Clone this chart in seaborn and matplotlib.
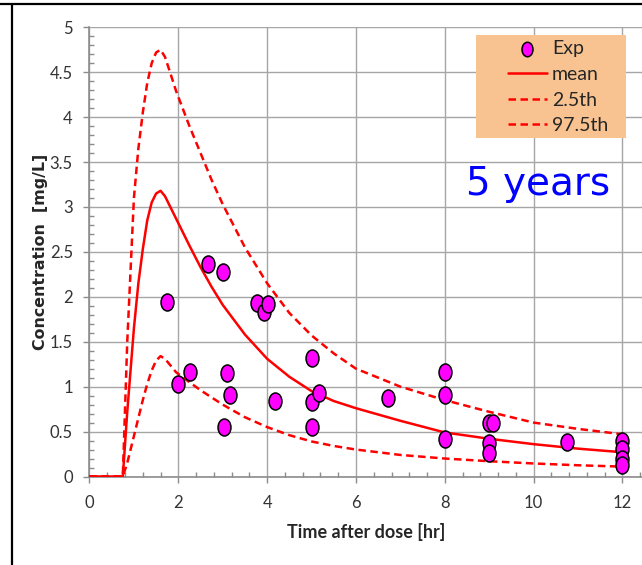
import numpy as np
import pandas as pd
import matplotlib
matplotlib.use("Agg")
import matplotlib.pyplot as plt
import seaborn as sns
from matplotlib.path import Path
from matplotlib.transforms import Affine2D
from matplotlib.lines import Line2D
from matplotlib.patches import Rectangle

# ---------------- data ----------------
exp_time = [1.75, 2.0, 2.26, 2.67, 3.01, 3.09, 3.16, 3.03, 3.77, 3.93, 4.03, 4.18,
            5.0, 5.0, 5.17, 5.0, 6.73, 8.0, 8.0, 8.0, 9.0, 9.08, 9.0, 9.0, 10.75,
            12.0, 12.0, 12.0, 12.0]
exp_conc = [1.94, 1.03, 1.16, 2.37, 2.28, 1.15, 0.91, 0.555, 1.93, 1.835, 1.92, 0.84,
            1.32, 0.83, 0.93, 0.555, 0.87, 1.16, 0.91, 0.42, 0.60, 0.59, 0.37, 0.26, 0.38,
            0.39, 0.31, 0.19, 0.13]

curve_time = [0, 0.75, 0.85, 1.0, 1.1, 1.2, 1.3, 1.4, 1.5, 1.6, 1.7, 1.8, 1.95, 2.25,
              2.5, 2.75, 3.0, 3.5, 4.0, 4.5, 5.0, 5.5, 6.0, 7.0, 8.0, 9.0, 10.0, 11.0, 12.0]
mean_conc = [0, 0, 0.72, 1.65, 2.15, 2.53, 2.85, 3.05, 3.15, 3.18, 3.12, 3.02, 2.87, 2.57,
             2.33, 2.11, 1.91, 1.58, 1.31, 1.11, 0.95, 0.84, 0.76, 0.62, 0.49, 0.42, 0.36, 0.31, 0.27]
p025_conc = [0, 0, 0.15, 0.45, 0.65, 0.85, 1.03, 1.18, 1.29, 1.34, 1.31, 1.25, 1.16, 1.05,
             0.96, 0.88, 0.80, 0.66, 0.55, 0.46, 0.39, 0.34, 0.30, 0.24, 0.20, 0.17, 0.145, 0.125, 0.11]
p975_conc = [0, 0, 1.5, 3.1, 3.65, 4.05, 4.38, 4.6, 4.72, 4.75, 4.67, 4.52, 4.29, 3.9,
             3.6, 3.3, 3.03, 2.55, 2.15, 1.82, 1.57, 1.37, 1.2, 1.0, 0.85, 0.72, 0.6, 0.53, 0.47]

x_ticks = [0, 2, 4, 6, 8, 10, 12]
x_tick_labels = ["0", "2", "4", "6", "8", "10", "12"]
y_ticks = [0, 0.5, 1, 1.5, 2, 2.5, 3, 3.5, 4, 4.5, 5]
y_tick_labels = ["0", "0.5", "1", "1.5", "2", "2.5", "3", "3.5", "4", "4.5", "5"]

# ---------------- style ----------------
sns.set_style("white")
base_font = ["Lato", "DejaVu Sans"]
plt.rcParams["font.family"] = base_font

W, H = 642, 565
fig = plt.figure(figsize=(W / 100, H / 100), dpi=100)
ax = fig.add_axes([89.5 / W, 88.5 / H, 552.5 / W, 449.2 / H])

red = "#ff0000"
lw = 1.8
sns.lineplot(x=curve_time, y=mean_conc, ax=ax, color=red, lw=lw, label="mean",
             sort=False, estimator=None, zorder=3)
sns.lineplot(x=curve_time, y=p025_conc, ax=ax, color=red, lw=lw, label="2.5th",
             sort=False, estimator=None, linestyle=(0, (3.0, 1.8)), zorder=3)
sns.lineplot(x=curve_time, y=p975_conc, ax=ax, color=red, lw=lw, label="97.5th",
             sort=False, estimator=None, linestyle=(0, (3.0, 1.8)), zorder=3)

ell = Path.unit_circle().transformed(Affine2D().scale(0.76, 1.0))
sns.scatterplot(x=exp_time, y=exp_conc, ax=ax, marker=ell, s=150, color="#ff00ff",
                edgecolor="black", linewidth=1.1, label="Exp", zorder=5, clip_on=False)

ax.set_xlim(0, 12.44)
ax.set_ylim(0, 5)
ax.set_xticks(x_ticks)
ax.set_xticklabels(x_tick_labels)
ax.set_yticks(y_ticks)
ax.set_yticklabels(y_tick_labels)
ax.set_xticks(np.arange(0, 12.41, 0.4), minor=True)
ax.set_yticks(np.arange(0, 5.01, 0.1), minor=True)

grid_c = "#a6a6a6"
ax.grid(True, which="major", color=grid_c, linewidth=1.0, zorder=0)
ax.set_axisbelow(True)
for s in ["top", "right"]:
    ax.spines[s].set_visible(False)
for s in ["left", "bottom"]:
    ax.spines[s].set_color("#8c8c8c")
    ax.spines[s].set_linewidth(1.2)

ax.tick_params(which="major", direction="out", length=4, width=1.0, color="#8c8c8c",
               labelsize=12, labelcolor="#333333")
ax.tick_params(axis="y", which="major", pad=8)
ax.tick_params(axis="x", which="major", pad=9)
ax.tick_params(which="minor", direction="in", length=3.5, width=1.0, color="#8c8c8c")
ax.tick_params(which="both", bottom=True, left=True)

ax.set_xlabel("Time after dose [hr]", fontsize=13, fontweight="bold", labelpad=9,
              family=base_font)
ax.set_ylabel("Concentration  [mg/L]", fontsize=11.4, fontweight="bold", labelpad=1,
              family=["DejaVu Sans"])

# legend box
def ax_x(px):
    return (px - 89.5) / 552.5

def ax_y(py):
    return (476.5 - py) / 449.2

rect = Rectangle((ax_x(476), ax_y(138)), ax_x(626) - ax_x(476), ax_y(35) - ax_y(138),
                 transform=ax.transAxes, facecolor="#f8c391", edgecolor="none", zorder=6)
ax.add_patch(rect)

handles, labels = ax.get_legend_handles_labels()
order = [labels.index(n) for n in ["Exp", "mean", "2.5th", "97.5th"]]
leg = ax.legend([handles[i] for i in order], [labels[i] for i in order],
                loc="upper left", bbox_to_anchor=(ax_x(508), ax_y(40)),
                frameon=False, fontsize=14, handlelength=2.0, handletextpad=0.25,
                labelspacing=0.45, borderpad=0, borderaxespad=0, markerscale=0.85)
leg.set_zorder(7)

ax.text(ax_x(538), ax_y(195), "5 years", transform=ax.transAxes, ha="center",
        va="baseline", fontsize=28, color="#0000ff", family=["DejaVu Sans"], zorder=7)

# page border lines
fig.add_artist(Line2D([0, 1], [1 - 3.5 / H, 1 - 3.5 / H], transform=fig.transFigure,
                      color="black", lw=1.6))
fig.add_artist(Line2D([12 / W, 12 / W], [0, 1 - 3.5 / H], transform=fig.transFigure,
                      color="black", lw=1.6))

fig.savefig("out.png", dpi=100)
